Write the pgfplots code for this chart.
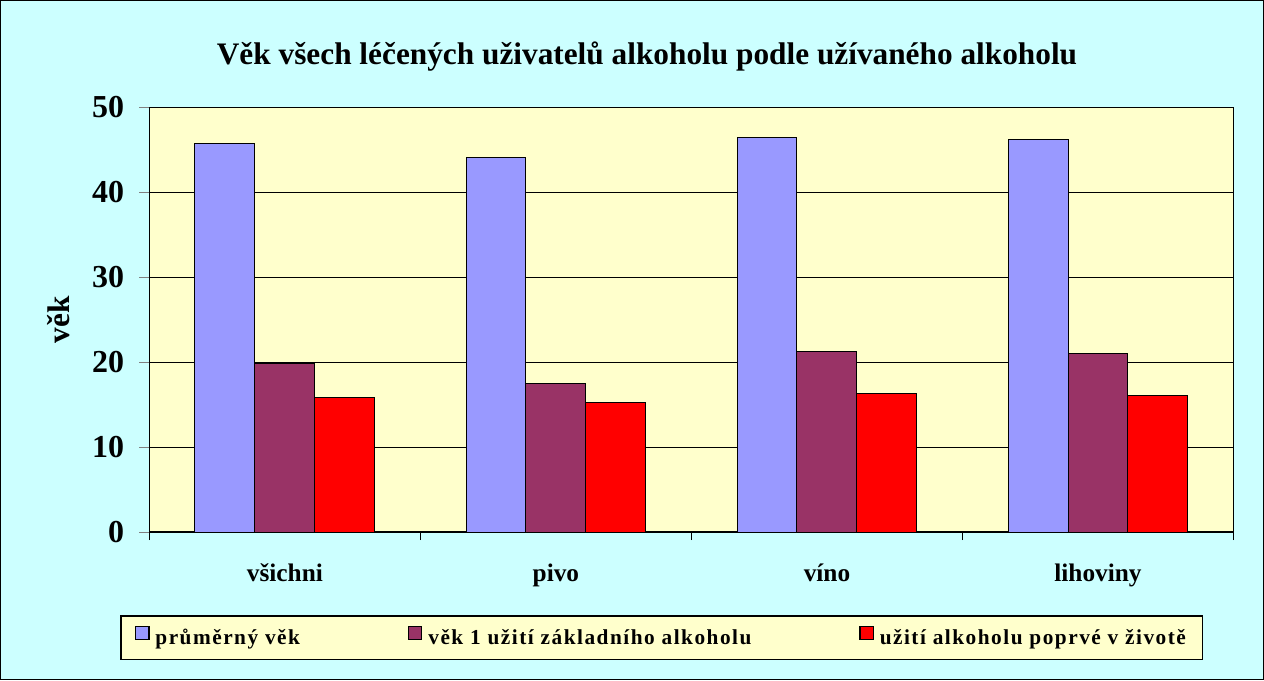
\documentclass[border=0pt]{standalone}
\usepackage{pgfplots}
\pgfplotsset{compat=1.18}
\usepackage{fontspec}
\setmainfont{Liberation Serif}
\newfontfamily\legfont[LetterSpace=7]{Liberation Serif}
\definecolor{bgc}{HTML}{CCFFFF}
\definecolor{plotc}{HTML}{FFFFCC}
\definecolor{c1}{HTML}{9999FF}
\definecolor{c2}{HTML}{993366}
\definecolor{c3}{HTML}{FF0000}
\begin{document}
\begin{tikzpicture}
\fill[bgc,draw=black,line width=0.75pt] (0pt,0pt) rectangle (948pt,510pt);
\begin{axis}[
  at={(111.75pt,111pt)}, anchor=south west,
  scale only axis, width=813.75pt, height=318.75pt,
  axis background/.style={fill=plotc},
  axis line style={black,line width=0.9pt},
  ybar=0pt, bar width=45pt,
  xmin=-0.5, xmax=3.5, ymin=0, ymax=50,
  xtick={0,1,2,3},
  xticklabels={všichni,pivo,víno,lihoviny},
  major x tick style={draw=none},
  minor xtick={-0.5,0.5,1.5,2.5,3.5},
  minor x tick style={black,line width=0.6pt},
  minor tick length=6pt,
  ytick={0,10,20,30,40,50},
  major tick length=7.5pt,
  tick align=outside,
  xtick pos=bottom, ytick pos=left,
  ymajorgrids, grid style={black,line width=0.6pt},
  /pgf/number format/assume math mode=true,
  yticklabel style={font=\bfseries\fontsize{24}{24}\selectfont, xshift=-8pt},
  xticklabel style={font=\bfseries\fontsize{19}{19}\selectfont, anchor=base, yshift=-29.5pt},
  ylabel={věk},
  ylabel style={font=\bfseries\fontsize{23.5}{23.5}\selectfont, at={(axis description cs:-0.0839,0.5)}, anchor=center, rotate=0},
  title={Věk všech léčených uživatelů alkoholu podle užívaného alkoholu},
  title style={font=\bfseries\fontsize{23.5}{23.5}\selectfont, at={(axis description cs:0.459,1.083)}, anchor=base},
  legend columns=3,
  legend style={at={(axis description cs:-0.0267,-0.301)}, anchor=south west,
    fill=plotc, draw=black, line width=0.9pt,
    font=\legfont\bfseries\fontsize{16}{18}\selectfont,
    inner xsep=10.5pt, inner ysep=7.5pt,
    /tikz/every even column/.append style={column sep=79pt}},
  legend image code/.code={\draw[#1,line width=0.9pt] (0pt,-1pt) rectangle (10pt,8.5pt); \path (12.5pt,0pt);},
]
\addplot[fill=c1,draw=black,line width=0.75pt] coordinates {(0,45.8) (1,44.1) (2,46.4) (3,46.2)};
\addplot[fill=c2,draw=black,line width=0.75pt] coordinates {(0,19.8) (1,17.5) (2,21.3) (3,21.0)};
\addplot[fill=c3,draw=black,line width=0.75pt] coordinates {(0,15.9) (1,15.3) (2,16.3) (3,16.1)};
\legend{průměrný věk, věk 1 užití základního alkoholu, užití alkoholu poprvé v životě}
\end{axis}
\end{tikzpicture}
\end{document}
